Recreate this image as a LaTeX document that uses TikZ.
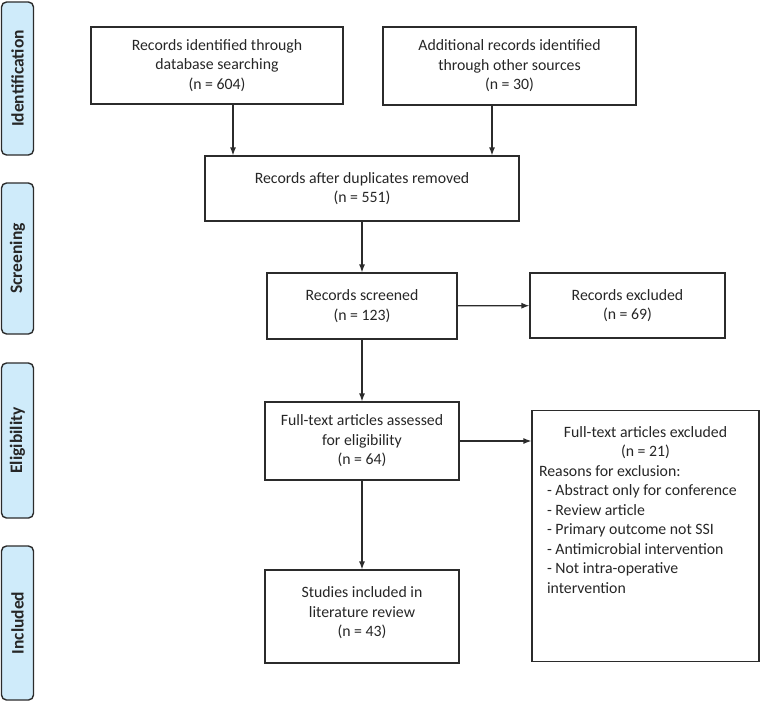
\documentclass[tikz,border=0pt]{standalone}
\usepackage{fontspec}
\setmainfont{Carlito}
\usetikzlibrary{arrows.meta, positioning}
\definecolor{stageblue}{HTML}{CFEBFA}
\definecolor{linegray}{HTML}{2B2B2B}

\begin{document}
\begin{tikzpicture}[x=1pt, y=-1pt,
  box/.style   = {draw=linegray, line width=1.2pt, align=center, inner sep=2pt,
                  font=\fontsize{15.8}{19.5}\selectfont, text=black!85},
  stage/.style = {draw=linegray, line width=1.4pt, fill=stageblue, rounded corners=5pt,
                  rotate=90, minimum height=32pt, inner sep=0pt,
                  font=\fontsize{17.5}{20}\selectfont\bfseries, text=black!85},
  >={Latex[length=8pt, width=6pt]}]

\useasboundingbox (0,0) rectangle (760,702);

% phase labels along the left side
\node[stage, minimum width=153pt] (s1) at (17.5,78.5)  {Identification};
\node[stage, minimum width=151pt] (s2) at (17.5,258.5) {Screening};
\node[stage, minimum width=155pt] (s3) at (17.5,440.5) {Eligibility};
\node[stage, minimum width=154pt] (s4) at (17.5,623)   {Included};

% boxes of the flow
\node[box, minimum width=252pt, minimum height=77pt] (ids) at (217,65.5)
  {Records identified through\\database searching\\(n = 604)};
\node[box, minimum width=253pt, minimum height=78pt] (other) at (509.5,66)
  {Additional records identified\\through other sources\\(n = 30)};
\node[box, minimum width=314pt, minimum height=65pt] (dedup) at (362,188.5)
  {Records after duplicates removed\\(n = 551)};
\node[box, minimum width=190pt, minimum height=66pt] (screen) at (362,306)
  {Records screened\\(n = 123)};
\node[box, minimum width=195pt, minimum height=65pt] (excl) at (627.5,305.5)
  {Records excluded\\(n = 69)};
\node[box, minimum width=194pt, minimum height=78pt] (full) at (362,441)
  {Full-text articles assessed\\for eligibility\\(n = 64)};
\node[box, minimum width=227pt, minimum height=251pt, anchor=north, inner sep=0pt] (fullexcl) at (645.5,410)
  {\begin{minipage}[t][240pt][t]{213pt}
     \vspace{10pt}\centering Full-text articles excluded\par
     (n = 21)\par
     \raggedright Reasons for exclusion:\\
     \hspace{8pt}- Abstract only for conference\\
     \hspace{8pt}- Review article\\
     \hspace{8pt}- Primary outcome not SSI\\
     \hspace{8pt}- Antimicrobial intervention\\
     \hspace{8pt}- Not intra-operative\\
     \hspace{8pt}intervention
   \end{minipage}};
\node[box, minimum width=194pt, minimum height=93pt] (incl) at (362,616.5)
  {Studies included in\\literature review\\(n = 43)\\[-10pt]};

% connectors
\draw[->, line width=1.2pt, linegray] ([xshift=16pt]ids.south) -- ([xshift=16pt]ids.south |- dedup.north);
\draw[->, line width=1.2pt, linegray] ([xshift=-17.5pt]other.south) -- ([xshift=-17.5pt]other.south |- dedup.north);
\draw[->, line width=1.2pt, linegray] (dedup) -- (screen);
\draw[->, line width=1.2pt, linegray] (screen) -- (excl);
\draw[->, line width=1.2pt, linegray] (screen) -- (full);
\draw[->, line width=1.2pt, linegray] (full.east) -- (full.east -| fullexcl.west);
\draw[->, line width=1.2pt, linegray] (full) -- (incl);

\end{tikzpicture}
\end{document}
